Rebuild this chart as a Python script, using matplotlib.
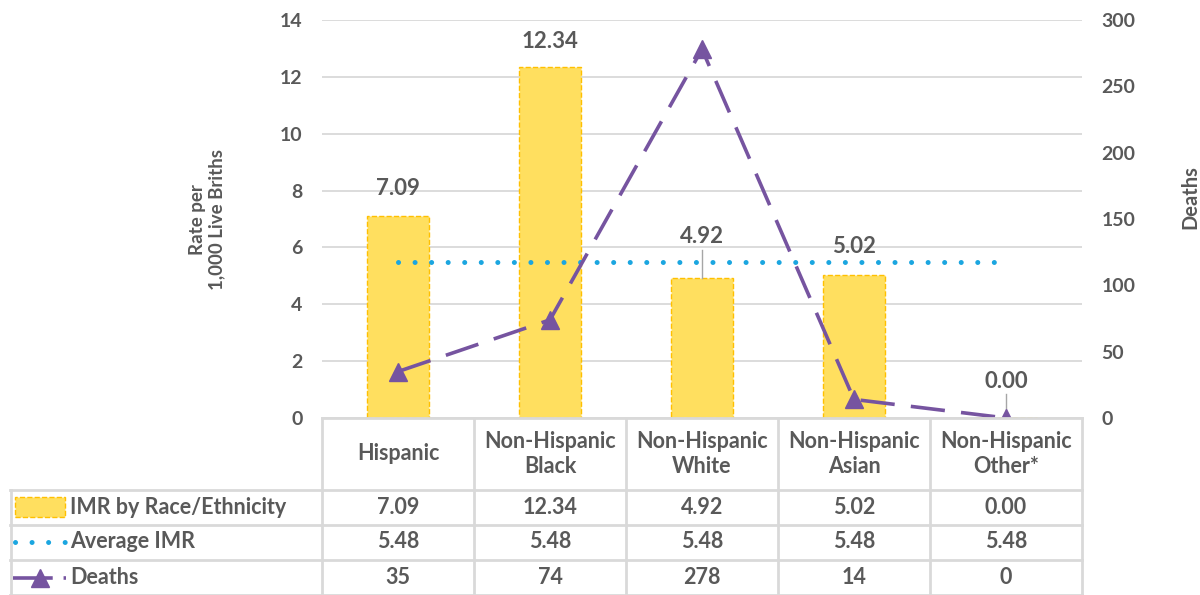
import matplotlib.pyplot as plt
import matplotlib.transforms as mtransforms
from matplotlib.lines import Line2D
from matplotlib.patches import Rectangle

plt.rcParams['font.family'] = ['Lato', 'DejaVu Sans']

categories = ['Hispanic', 'Non-Hispanic\nBlack', 'Non-Hispanic\nWhite', 'Non-Hispanic\nAsian', 'Non-Hispanic\nOther*']
imr = [7.09, 12.34, 4.92, 5.02, 0.00]
avg_imr = [5.48, 5.48, 5.48, 5.48, 5.48]
deaths = [35, 74, 278, 14, 0]

grey = '#595959'
grid_c = '#D9D9D9'
bar_fill = '#FFDF5F'
bar_edge = '#FFC000'
blue = '#1BA6E0'
purple = '#7654A0'

W, H = 1200, 595
fig = plt.figure(figsize=(12, 5.95), dpi=100)

def fy(y):
    return 1 - y / H

ax = fig.add_axes([322 / W, fy(418), (1082 - 322) / W, (418 - 20) / H])
ax2 = ax.twinx()

x = list(range(len(categories)))
ax.bar(x, imr, width=0.41, color=bar_fill, edgecolor=bar_edge, linestyle='--', linewidth=1, zorder=2)
ax.plot(x, avg_imr, color=blue, linewidth=3.6, linestyle=(0, (0.01, 3.3)), dash_capstyle='round', zorder=3)
ax.set_xlim(-0.5, 4.5)
ax.set_ylim(0, 14)
ax.set_yticks(range(0, 15, 2))
ax.grid(axis='y', color=grid_c, linewidth=1.3, zorder=0)
ax.set_axisbelow(True)
ax.set_xticks([])
for s in ax.spines.values():
    s.set_visible(False)
ax.tick_params(axis='y', length=0, pad=14, labelsize=14, labelcolor=grey)
for t in ax.get_yticklabels():
    t.set_fontweight('bold')

ax2.plot(x, deaths, color=purple, linewidth=2.6, linestyle=(0, (9.5, 4.5)), marker='^',
         markersize=13, zorder=4)
ax2.set_ylim(0, 300)
ax2.set_yticks(range(0, 301, 50))
for s in ax2.spines.values():
    s.set_visible(False)
ax2.tick_params(axis='y', length=0, pad=14, labelsize=14, labelcolor=grey)
for t in ax2.get_yticklabels():
    t.set_fontweight('bold')

# data labels
label_offsets = [1.0, 0.9, 1.45, 1.0, 1.3]
for i, v in enumerate(imr):
    ly = v + label_offsets[i]
    ax2.text(i, ly * 300 / 14, f'{v:.2f}', ha='center', va='center', fontsize=16,
             fontweight='bold', color=grey, zorder=6)
    if label_offsets[i] > 1.1:
        ax.plot([i, i], [v, ly - 0.45], color='#A6A6A6', linewidth=1, zorder=5)

fig.text(207 / W, fy(220), 'Rate per\n1,000 Live Briths', rotation=90, ha='center', va='center',
         fontsize=13.5, fontweight='bold', color=grey, linespacing=1.15)
fig.text(1190 / W, fy(197), 'Deaths', rotation=90, ha='center', va='center',
         fontsize=14.5, fontweight='bold', color=grey)

# data table
tr = mtransforms.blended_transform_factory(ax.transData, fig.transFigure)
ftr = fig.transFigure
n = len(categories)
rows_y = [418, 490, 525, 560, 595]
for yy in rows_y[1:]:
    fig.add_artist(Line2D([10 / W, 1082 / W], [fy(yy), fy(yy)], color=grid_c, linewidth=2, transform=ftr))
fig.add_artist(Line2D([322 / W, 1082 / W], [fy(418), fy(418)], color=grid_c, linewidth=2, transform=ftr))
fig.add_artist(Line2D([11 / W, 11 / W], [fy(490), 0], color=grid_c, linewidth=2, transform=ftr))
for k in range(n + 1):
    fig.add_artist(Line2D([k - 0.5, k - 0.5], [fy(418), 0], color=grid_c, linewidth=2, transform=tr))

tsize = 15.5
for i, c in enumerate(categories):
    fig.text(i, fy(454), c, transform=tr, ha='center', va='center', fontsize=tsize,
             fontweight='bold', color=grey, linespacing=1.25)
    fig.text(i, fy(507), f'{imr[i]:.2f}', transform=tr, ha='center', va='center', fontsize=tsize,
             fontweight='bold', color=grey)
    fig.text(i, fy(542), f'{avg_imr[i]:.2f}', transform=tr, ha='center', va='center', fontsize=tsize,
             fontweight='bold', color=grey)
    fig.text(i, fy(578), f'{deaths[i]}', transform=tr, ha='center', va='center', fontsize=tsize,
             fontweight='bold', color=grey)

# legend keys
fig.add_artist(Rectangle((15 / W, fy(517)), 50 / W, 20 / H, facecolor=bar_fill, edgecolor=bar_edge,
                         linestyle='--', linewidth=1, transform=ftr))
fig.add_artist(Line2D([15 / W, 65 / W], [fy(542), fy(542)], color=blue, linewidth=3.6,
                      linestyle=(0, (0.01, 3.3)), dash_capstyle='round', transform=ftr))
fig.add_artist(Line2D([13 / W, 66 / W], [fy(578), fy(578)], color=purple, linewidth=2.6,
                      linestyle=(0, (11, 3)), transform=ftr))
fig.add_artist(Line2D([40 / W], [fy(578)], color=purple, marker='^', markersize=13, transform=ftr))
legend_names = ['IMR by Race/Ethnicity', 'Average IMR', 'Deaths']
for name, yy in zip(legend_names, [507, 542, 578]):
    fig.text(70 / W, fy(yy), name, ha='left', va='center', fontsize=tsize, fontweight='bold', color=grey)

fig.savefig('out.png', dpi=100)
